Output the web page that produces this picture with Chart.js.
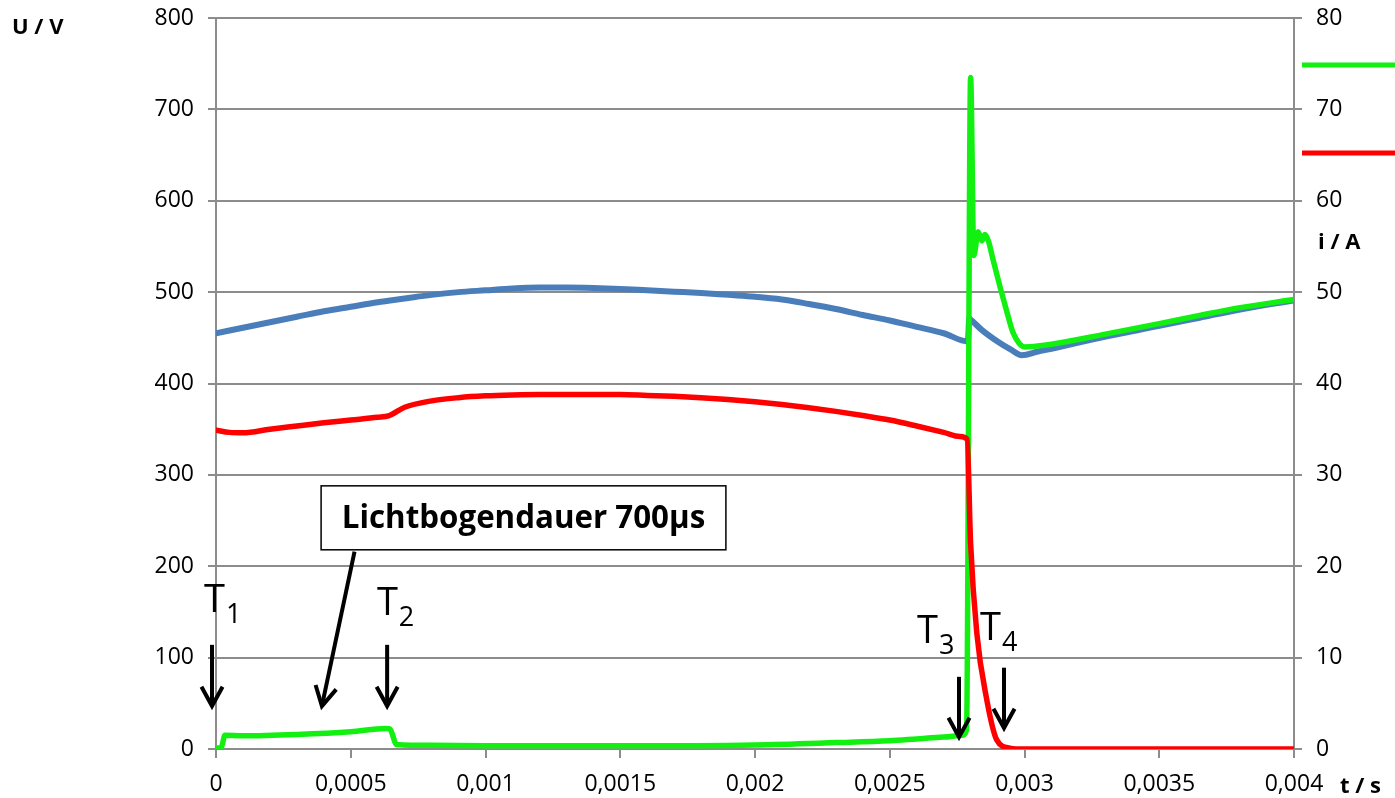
<!DOCTYPE html>
<html>
<head>
<meta charset="utf-8">
<script src="https://cdn.jsdelivr.net/npm/chart.js@4.4.1/dist/chart.umd.min.js"></script>
<style>
  html, body { margin: 0; padding: 0; background: #fff; }
  #wrap { width: 1395px; height: 798px; position: relative; }
</style>
</head>
<body>
<div id="wrap"><canvas id="chart"></canvas></div>
<script>
const xTicks = [0, 0.0005, 0.001, 0.0015, 0.002, 0.0025, 0.003, 0.0035, 0.004];
const uTicks = [0, 100, 200, 300, 400, 500, 600, 700, 800];
const iTicks = [0, 10, 20, 30, 40, 50, 60, 70, 80];

// blaue Kurve (linke Achse, V)
const tBlue = [0, 0.0001, 0.0002, 0.0003, 0.0004, 0.0005, 0.0006, 0.0007, 0.0008, 0.0009, 0.001, 0.0011, 0.0012, 0.0013, 0.0014, 0.0015, 0.0016, 0.0017, 0.0018, 0.0019, 0.002, 0.0021, 0.0022, 0.0023, 0.0024, 0.0025, 0.0026, 0.0027, 0.00279, 0.002795, 0.0028, 0.00284, 0.0029, 0.00295, 0.00299, 0.00305, 0.0031, 0.00328, 0.0035, 0.00365, 0.0038, 0.004];
const uBlue = [455, 461, 467, 473, 479, 484, 489, 493, 497, 500, 502, 504, 505, 505, 504.5, 503.5, 502, 500.5, 499, 497, 495, 492, 487, 481.5, 475, 469, 462, 455, 446, 471, 470, 459, 446, 437, 431, 435, 438, 450, 463, 472, 481, 491];

// grüne Kurve (linke Achse, V)
const tGreen = [0, 0.00002, 0.000033, 0.0001, 0.0003, 0.0005, 0.00063, 0.000645, 0.00067, 0.0008, 0.001, 0.0015, 0.002, 0.0023, 0.0025, 0.0026, 0.0027, 0.00277, 0.002785, 0.0028, 0.002812, 0.002828, 0.002842, 0.002853, 0.002866, 0.002883, 0.002909, 0.002935, 0.002957, 0.00298, 0.003, 0.00305, 0.0031, 0.0033, 0.0035, 0.00365, 0.0038, 0.004];
const uGreen = [1, 2, 15, 14.5, 16, 19, 22.5, 22, 5, 4, 3.5, 3.5, 4.5, 7, 9, 11, 13, 15, 21, 735, 540, 566, 556, 563, 556, 536, 506, 478, 456, 444, 440, 441, 443, 454, 465.5, 474.5, 483, 492];

// rote Kurve (rechte Achse, A)
const tRed = [0, 0.00005, 0.0001, 0.0002, 0.0003, 0.0004, 0.0005, 0.0006, 0.00064, 0.0007, 0.0008, 0.0009, 0.001, 0.0011, 0.0012, 0.0015, 0.0016, 0.0017, 0.0018, 0.0019, 0.002, 0.0021, 0.0022, 0.0023, 0.0024, 0.0025, 0.0026, 0.0027, 0.00276, 0.002787, 0.0028, 0.002823, 0.00286, 0.002897, 0.002946, 0.003, 0.004];
const iRed = [34.9, 34.65, 34.6, 35.0, 35.35, 35.7, 36.0, 36.3, 36.45, 37.4, 38.1, 38.45, 38.65, 38.75, 38.8, 38.8, 38.7, 38.6, 38.45, 38.25, 38.0, 37.7, 37.35, 36.95, 36.5, 36.0, 35.35, 34.65, 34.2, 33.9, 22.5, 12.7, 5.4, 1.0, 0.1, 0, 0];

// Beschriftungen im Diagramm (Datenkoordinaten: t, U)
const boxText = 'Lichtbogendauer 700µs';
const boxArea = { t0: 0.00039, t1: 0.001892, u0: 288, u1: 218 };
const tLabels = [
  { main: 'T', sub: '1', t: -0.0000445, u: 150 },
  { main: 'T', sub: '2', t: 0.000597, u: 147 },
  { main: 'T', sub: '3', t: 0.002601, u: 116 },
  { main: 'T', sub: '4', t: 0.002835, u: 119 }
];
const arrows = [
  { t0: -0.0000148, u0: 114, t1: -0.0000148, u1: 47 },
  { t0: 0.000635, u0: 114, t1: 0.000635, u1: 47 },
  { t0: 0.000514, u0: 216, t1: 0.000393, u1: 47 },
  { t0: 0.002757, u0: 79, t1: 0.002757, u1: 13 },
  { t0: 0.002924, u0: 89, t1: 0.002924, u1: 23 }
];

const GREEN = '#11f011';
const RED = '#ff0000';
const BLUE = '#4a7ebb';
const GRID = '#8c8c8c';
const FONT = "'Open Sans', 'DejaVu Sans', sans-serif";

function pts(xs, ys) {
    return xs.map((x, k) => ({ x: x, y: ys[k] }));
}

function fmtTick(v) {
    return String(Number(v.toFixed(5))).replace('.', ',');
}

const annotations = {
    id: 'annotations',
    afterDatasetsDraw(chart) {
        const ctx = chart.ctx;
        const sx = chart.scales.x, sy = chart.scales.y;
        const X = t => sx.getPixelForValue(t);
        const Y = u => sy.getPixelForValue(u);

        ctx.save();
        // Legendenlinien am rechten Rand (Text abgeschnitten)
        ctx.lineWidth = 5;
        ctx.strokeStyle = GREEN;
        ctx.beginPath(); ctx.moveTo(1302, 65); ctx.lineTo(1395, 65); ctx.stroke();
        ctx.strokeStyle = RED;
        ctx.beginPath(); ctx.moveTo(1302, 153); ctx.lineTo(1395, 153); ctx.stroke();

        // Achsentitel
        ctx.fillStyle = '#000';
        ctx.font = 'bold 22px ' + FONT;
        ctx.textBaseline = 'middle';
        ctx.textAlign = 'left';
        ctx.fillText('U / V', 12, 28);
        ctx.fillText('i / A', 1318, 243);
        ctx.fillText('t / s', 1340, 787);

        // Pfeile
        ctx.strokeStyle = '#000';
        ctx.lineWidth = 4;
        ctx.lineJoin = 'miter';
        arrows.forEach(a => {
            const x0 = X(a.t0), y0 = Y(a.u0), x1 = X(a.t1), y1 = Y(a.u1);
            const ang = Math.atan2(y1 - y0, x1 - x0);
            ctx.beginPath();
            ctx.moveTo(x0, y0);
            ctx.lineTo(x1 - Math.cos(ang) * 3, y1 - Math.sin(ang) * 3);
            ctx.stroke();
            const hl = 22, hw = 0.5;
            ctx.beginPath();
            ctx.moveTo(x1 - hl * Math.cos(ang - hw), y1 - hl * Math.sin(ang - hw));
            ctx.lineTo(x1, y1);
            ctx.lineTo(x1 - hl * Math.cos(ang + hw), y1 - hl * Math.sin(ang + hw));
            ctx.stroke();
        });

        // Textkasten
        const bx0 = X(boxArea.t0), bx1 = X(boxArea.t1), by0 = Y(boxArea.u0), by1 = Y(boxArea.u1);
        ctx.fillStyle = '#fff';
        ctx.fillRect(bx0, by0, bx1 - bx0, by1 - by0);
        ctx.lineWidth = 1.5;
        ctx.strokeRect(bx0, by0, bx1 - bx0, by1 - by0);
        let fs = 30;
        ctx.font = 'bold ' + fs + 'px ' + FONT;
        const w = ctx.measureText(boxText).width;
        fs = fs * 364 / w;
        ctx.font = 'bold ' + fs.toFixed(1) + 'px ' + FONT;
        ctx.fillStyle = '#000';
        ctx.textAlign = 'center';
        ctx.textBaseline = 'middle';
        ctx.fillText(boxText, (bx0 + bx1) / 2, (by0 + by1) / 2 + 1);

        // T-Beschriftungen
        ctx.textAlign = 'left';
        ctx.textBaseline = 'alphabetic';
        tLabels.forEach(l => {
            const x = X(l.t), y = Y(l.u);
            ctx.font = '38px ' + FONT;
            ctx.fillText(l.main, x, y);
            const tw = ctx.measureText(l.main).width;
            ctx.font = '27px ' + FONT;
            ctx.fillText(l.sub, x + tw + 1, y + 11);
        });
        ctx.restore();
    }
};

function noPad(s) {
    s.paddingTop = 0;
    s.paddingBottom = 0;
}

function renderChart() {
    const ctx = document.getElementById('chart').getContext('2d');
    Chart.defaults.font.family = FONT;
    Chart.defaults.color = '#000';

    new Chart(ctx, {
        type: 'scatter',
        data: {
            datasets: [
                {
                    label: 'i',
                    data: pts(tRed, iRed),
                    yAxisID: 'y1',
                    borderColor: RED,
                    borderWidth: 5.5,
                    order: 0
                },
                {
                    label: 'U',
                    data: pts(tGreen, uGreen),
                    yAxisID: 'y',
                    borderColor: GREEN,
                    borderWidth: 5.5,
                    order: 1
                },
                {
                    label: 'blau',
                    data: pts(tBlue, uBlue),
                    yAxisID: 'y',
                    borderColor: BLUE,
                    borderWidth: 6,
                    order: 2
                }
            ]
        },
        options: {
            responsive: true,
            maintainAspectRatio: false,
            animation: false,
            showLine: true,
            layout: { padding: { top: 18, left: 0, right: 0, bottom: 0 } },
            elements: {
                point: { radius: 0, hoverRadius: 0 },
                line: { cubicInterpolationMode: 'monotone', fill: false, borderCapStyle: 'round' }
            },
            plugins: {
                legend: { display: false },
                tooltip: { enabled: false }
            },
            scales: {
                x: {
                    type: 'linear',
                    min: 0,
                    max: 0.004,
                    afterBuildTicks: s => { s.ticks = xTicks.map(v => ({ value: v })); },
                    afterFit: s => { s.height = 49; s.paddingLeft = 0; s.paddingRight = 0; },
                    ticks: {
                        font: { size: 23 },
                        padding: 13,
                        maxRotation: 0,
                        callback: v => fmtTick(v)
                    },
                    grid: { drawOnChartArea: false, color: GRID, lineWidth: 2, tickLength: 9 },
                    border: { color: GRID, width: 2 }
                },
                y: {
                    position: 'left',
                    min: 0,
                    max: 800,
                    afterBuildTicks: s => { s.ticks = uTicks.map(v => ({ value: v })); },
                    afterFit: s => { s.width = 216; noPad(s); },
                    ticks: { font: { size: 23 }, padding: 14 },
                    grid: { color: GRID, lineWidth: 2, tickLength: 8 },
                    border: { color: GRID, width: 2 }
                },
                y1: {
                    position: 'right',
                    min: 0,
                    max: 80,
                    afterBuildTicks: s => { s.ticks = iTicks.map(v => ({ value: v })); },
                    afterFit: s => { s.width = 101; noPad(s); },
                    ticks: { font: { size: 23 }, padding: 14 },
                    grid: { drawOnChartArea: false, color: GRID, lineWidth: 2, tickLength: 8 },
                    border: { color: GRID, width: 2 }
                }
            }
        },
        plugins: [annotations]
    });
}

document.addEventListener('DOMContentLoaded', renderChart);
</script>
</body>
</html>
